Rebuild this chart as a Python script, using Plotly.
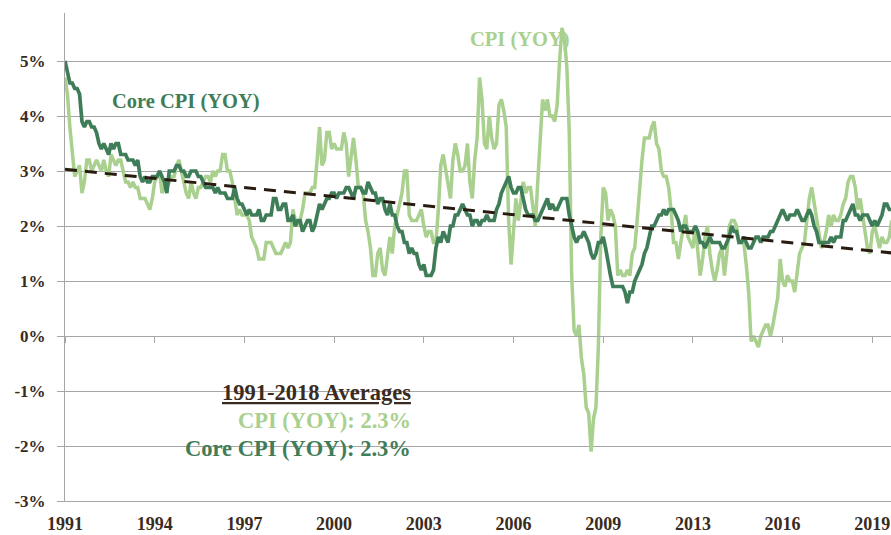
import plotly.graph_objects as go
import pandas as pd

# ---------------- data (monthly YoY %, Jun 1991 - Nov 2019) ----------------
months = pd.date_range("1991-06-01", "2019-11-01", freq="MS").strftime("%Y-%m").tolist()

cpi_yoy = [
    4.7, 4.4, 3.8, 3.4, 2.9, 3.0, 3.1,                                  # 1991 Jun-Dec
    2.6, 2.8, 3.2, 3.2, 3.0, 3.1, 3.2, 3.1, 3.0, 3.2, 3.0, 2.9,         # 1992
    3.3, 3.2, 3.1, 3.2, 3.2, 3.0, 2.8, 2.8, 2.7, 2.8, 2.7, 2.7,         # 1993
    2.5, 2.5, 2.5, 2.4, 2.3, 2.5, 2.8, 2.9, 3.0, 2.6, 2.7, 2.7,         # 1994
    2.8, 2.9, 2.9, 3.1, 3.2, 3.0, 2.8, 2.6, 2.5, 2.8, 2.6, 2.5,         # 1995
    2.7, 2.7, 2.8, 2.9, 2.9, 2.8, 3.0, 2.9, 3.0, 3.0, 3.3, 3.3,         # 1996
    3.0, 3.0, 2.8, 2.5, 2.2, 2.3, 2.2, 2.2, 2.2, 2.1, 1.8, 1.7,         # 1997
    1.6, 1.4, 1.4, 1.4, 1.7, 1.7, 1.7, 1.6, 1.5, 1.5, 1.5, 1.6,         # 1998
    1.7, 1.6, 1.7, 2.3, 2.1, 2.0, 2.1, 2.3, 2.6, 2.6, 2.6, 2.7,         # 1999
    2.7, 3.2, 3.8, 3.1, 3.2, 3.7, 3.7, 3.4, 3.5, 3.4, 3.4, 3.4,         # 2000
    3.7, 3.5, 2.9, 3.3, 3.6, 3.2, 2.7, 2.7, 2.6, 2.1, 1.9, 1.6,         # 2001
    1.1, 1.1, 1.5, 1.6, 1.2, 1.1, 1.5, 1.8, 1.5, 2.0, 2.2, 2.4,         # 2002
    2.6, 3.0, 3.0, 2.2, 2.1, 2.1, 2.1, 2.2, 2.3, 2.0, 1.8, 1.9,         # 2003
    1.9, 1.7, 1.7, 2.3, 3.1, 3.3, 3.0, 2.7, 2.5, 3.2, 3.5, 3.3,         # 2004
    3.0, 3.0, 3.1, 3.5, 2.8, 2.5, 3.2, 3.6, 4.7, 4.3, 3.5, 3.4,         # 2005
    4.0, 3.6, 3.4, 3.5, 4.2, 4.3, 4.1, 3.8, 2.1, 1.3, 2.0, 2.5,         # 2006
    2.1, 2.4, 2.8, 2.6, 2.7, 2.7, 2.4, 2.0, 2.8, 3.5, 4.3, 4.1,         # 2007
    4.3, 4.0, 4.0, 3.9, 4.2, 5.0, 5.6, 5.4, 4.9, 3.7, 1.1, 0.1,         # 2008
    0.0, 0.2, -0.4, -0.7, -1.3, -1.4, -2.1, -1.5, -1.3, -0.2, 1.8, 2.7, # 2009
    2.6, 2.1, 2.3, 2.2, 2.0, 1.1, 1.2, 1.1, 1.1, 1.2, 1.1, 1.5,         # 2010
    1.6, 2.1, 2.7, 3.2, 3.6, 3.6, 3.6, 3.8, 3.9, 3.5, 3.4, 3.0,         # 2011
    2.9, 2.9, 2.7, 2.3, 1.7, 1.7, 1.4, 1.7, 2.0, 2.2, 1.8, 1.7,         # 2012
    1.6, 2.0, 1.5, 1.1, 1.4, 1.8, 2.0, 1.5, 1.2, 1.0, 1.2, 1.5,         # 2013
    1.6, 1.1, 1.5, 2.0, 2.1, 2.1, 2.0, 1.7, 1.7, 1.7, 1.3, 0.8,         # 2014
    -0.1, 0.0, -0.1, -0.2, 0.0, 0.1, 0.2, 0.2, 0.0, 0.2, 0.5, 0.7,      # 2015
    1.4, 1.0, 0.9, 1.1, 1.0, 1.0, 0.8, 1.1, 1.5, 1.6, 1.7, 2.1,         # 2016
    2.5, 2.7, 2.4, 2.2, 1.9, 1.6, 1.7, 1.9, 2.2, 2.0, 2.2, 2.1,         # 2017
    2.1, 2.2, 2.4, 2.5, 2.8, 2.9, 2.9, 2.7, 2.3, 2.5, 2.2, 1.9,         # 2018
    1.6, 1.5, 1.9, 2.0, 1.8, 1.6, 1.8, 1.7, 1.7, 1.8, 2.1,              # 2019 Jan-Nov
]

core_yoy = [
    5.0, 4.8, 4.6, 4.6, 4.5, 4.5, 4.4,                                  # 1991 Jun-Dec
    3.9, 3.8, 3.9, 3.9, 3.8, 3.8, 3.7, 3.5, 3.4, 3.5, 3.4, 3.3,         # 1992
    3.5, 3.4, 3.5, 3.5, 3.3, 3.3, 3.3, 3.2, 3.2, 3.2, 3.1, 3.2,         # 1993
    2.9, 2.8, 2.9, 2.8, 2.8, 2.9, 2.9, 2.9, 3.0, 2.9, 2.8, 2.6,         # 1994
    3.0, 3.0, 3.0, 3.1, 3.1, 3.0, 3.0, 2.9, 2.9, 3.0, 3.0, 3.0,         # 1995
    2.9, 2.9, 2.8, 2.7, 2.7, 2.7, 2.7, 2.6, 2.7, 2.6, 2.6, 2.6,         # 1996
    2.5, 2.5, 2.5, 2.7, 2.5, 2.4, 2.4, 2.3, 2.2, 2.3, 2.2, 2.2,         # 1997
    2.2, 2.3, 2.1, 2.1, 2.2, 2.2, 2.2, 2.5, 2.5, 2.3, 2.3, 2.4,         # 1998
    2.4, 2.1, 2.1, 2.2, 2.0, 2.1, 2.1, 1.9, 2.0, 2.1, 2.1, 1.9,         # 1999
    2.0, 2.2, 2.4, 2.3, 2.4, 2.5, 2.5, 2.6, 2.6, 2.5, 2.6, 2.6,         # 2000
    2.6, 2.7, 2.7, 2.6, 2.5, 2.7, 2.7, 2.7, 2.6, 2.6, 2.8, 2.7,         # 2001
    2.6, 2.6, 2.4, 2.5, 2.5, 2.3, 2.2, 2.4, 2.2, 2.2, 2.0, 1.9,         # 2002
    1.9, 1.7, 1.7, 1.5, 1.6, 1.5, 1.5, 1.3, 1.2, 1.3, 1.1, 1.1,         # 2003
    1.1, 1.2, 1.6, 1.8, 1.7, 1.9, 1.8, 1.7, 2.0, 2.0, 2.2, 2.2,         # 2004
    2.3, 2.4, 2.3, 2.2, 2.2, 2.0, 2.1, 2.1, 2.0, 2.1, 2.1, 2.2,         # 2005
    2.1, 2.1, 2.1, 2.3, 2.4, 2.6, 2.7, 2.8, 2.9, 2.7, 2.6, 2.6,         # 2006
    2.7, 2.7, 2.5, 2.3, 2.2, 2.2, 2.2, 2.1, 2.1, 2.2, 2.3, 2.4,         # 2007
    2.5, 2.3, 2.4, 2.3, 2.3, 2.4, 2.5, 2.5, 2.5, 2.2, 2.0, 1.8,         # 2008
    1.7, 1.8, 1.8, 1.9, 1.8, 1.7, 1.5, 1.4, 1.5, 1.7, 1.7, 1.8,         # 2009
    1.6, 1.3, 1.1, 0.9, 0.9, 0.9, 0.9, 0.9, 0.8, 0.6, 0.8, 0.8,         # 2010
    1.0, 1.1, 1.2, 1.3, 1.5, 1.6, 1.8, 2.0, 2.0, 2.1, 2.2, 2.2,         # 2011
    2.3, 2.2, 2.3, 2.3, 2.3, 2.2, 2.1, 1.9, 2.0, 2.0, 1.9, 1.9,         # 2012
    1.9, 2.0, 1.9, 1.7, 1.7, 1.6, 1.7, 1.8, 1.7, 1.7, 1.7, 1.7,         # 2013
    1.6, 1.6, 1.7, 1.8, 2.0, 1.9, 1.9, 1.7, 1.7, 1.8, 1.7, 1.6,         # 2014
    1.6, 1.7, 1.8, 1.8, 1.7, 1.8, 1.8, 1.8, 1.9, 1.9, 2.0, 2.1,         # 2015
    2.2, 2.3, 2.2, 2.1, 2.2, 2.2, 2.2, 2.3, 2.2, 2.1, 2.1, 2.2,         # 2016
    2.3, 2.2, 2.0, 1.9, 1.7, 1.7, 1.7, 1.7, 1.7, 1.8, 1.7, 1.8,         # 2017
    1.8, 1.8, 2.1, 2.1, 2.2, 2.3, 2.4, 2.2, 2.2, 2.1, 2.2, 2.2,         # 2018
    2.2, 2.1, 2.0, 2.1, 2.0, 2.1, 2.2, 2.4, 2.4, 2.3, 2.3,              # 2019 Jan-Nov
]

# linear trend: value at first and last month
trend_months = [months[0], months[-1]]
trend_values = [3.03, 1.51]

x_tick_labels = ["1991", "1994", "1997", "2000", "2003", "2006", "2009", "2013", "2016", "2019"]
y_tick_values = [-3, -2, -1, 0, 1, 2, 3, 4, 5]
y_tick_labels = ["-3%", "-2%", "-1%", "0%", "1%", "2%", "3%", "4%", "5%"]

avg_title = "1991-2018 Averages"
avg_cpi = "CPI (YOY): 2.3%"
avg_core = "Core CPI (YOY): 2.3%"

# ---------------- styling ----------------
LIGHT = "#a9d08e"
DARK = "#3f7d58"
BROWN = "#3a2b20"
GRID = "#a6a6a6"
FONT = "Liberation Serif"

W, H = 891, 535
L, R, T, B = 65, 0, 13, 34
plot_w = W - L - R
plot_h = H - T - B
y_min, y_top = -3, 5 + 48 / 55.0

idx = list(range(len(months)))
pos = {m: i for i, m in enumerate(months)}
tick_step = 37
tick_idx = list(range(0, len(months), tick_step))[:len(x_tick_labels)]
x_max = (W - L) / (89.7 / tick_step)

fig = go.Figure()
fig.add_trace(go.Scatter(x=idx, y=cpi_yoy, mode="lines", name="CPI (YOY)",
                         line=dict(color=LIGHT, width=3.5), showlegend=False))
fig.add_trace(go.Scatter(x=idx, y=core_yoy, mode="lines", name="Core CPI (YOY)",
                         line=dict(color=DARK, width=3.7), showlegend=False))
fig.add_trace(go.Scatter(x=[pos[m] for m in trend_months], y=trend_values, mode="lines",
                         name="Trend", xaxis="x2",
                         line=dict(color="#2a1b10", width=3, dash="12px,8px"),
                         showlegend=False))


def px_x(p):
    return (p - L) / plot_w


def px_y(p):
    return (H - B - p) / plot_h


ann = [
    dict(text="<b>Core CPI (YOY)</b>", x=px_x(186), y=px_y(102), color=DARK, xanchor="center", size=20.5),
    dict(text="<b>CPI (YOY)</b>", x=px_x(520), y=px_y(39), color=LIGHT, xanchor="center", size=20.5),
    dict(text="<b><u>" + avg_title + "</u></b>", x=px_x(413), y=px_y(392), color=BROWN, xanchor="right", size=22.5),
    dict(text="<b>" + avg_cpi + "</b>", x=px_x(413), y=px_y(420), color=LIGHT, xanchor="right", size=22.5),
    dict(text="<b>" + avg_core + "</b>", x=px_x(413), y=px_y(448), color=DARK, xanchor="right", size=22.5),
]
for a in ann:
    fig.add_annotation(text=a["text"], x=a["x"], y=a["y"], xref="paper", yref="paper",
                       xanchor=a["xanchor"], yanchor="middle", showarrow=False,
                       font=dict(family=FONT, size=a["size"], color=a["color"]))

fig.update_layout(
    width=W, height=H,
    margin=dict(l=L, r=R, t=T, b=B, autoexpand=False),
    paper_bgcolor="white", plot_bgcolor="white",
    xaxis=dict(range=[0, x_max], tickmode="array", tickvals=tick_idx,
               ticktext=["<b>" + t + "</b>" for t in x_tick_labels],
               ticks="", showgrid=False, zeroline=False, automargin=False,
               showline=True, linecolor=GRID, linewidth=1,
               tickfont=dict(family=FONT, size=18, color=BROWN),
               ticklabelstandoff=6),
    xaxis2=dict(range=[0, x_max], overlaying="x", anchor="free",
                position=(0 - y_min) / (y_top - y_min),
                tickmode="array", tickvals=tick_idx, showticklabels=False,
                ticks="outside", ticklen=6, tickcolor=GRID, tickwidth=1,
                showgrid=False, zeroline=False, showline=True, linecolor=GRID, linewidth=1),
    yaxis=dict(range=[y_min, y_top], tickmode="array", tickvals=y_tick_values,
               ticktext=["<b>" + t + "</b>" for t in y_tick_labels],
               showgrid=True, gridcolor=GRID, gridwidth=1, zeroline=False, automargin=False,
               showline=True, linecolor=GRID, linewidth=1,
               ticks="outside", ticklen=7, tickcolor=GRID, tickwidth=1,
               tickfont=dict(family=FONT, size=17, color=BROWN),
               ticklabelstandoff=8),
)

fig.write_html("out.html", config={"displayModeBar": False},
               post_script="document.body.style.margin='0';document.body.style.padding='0';")
